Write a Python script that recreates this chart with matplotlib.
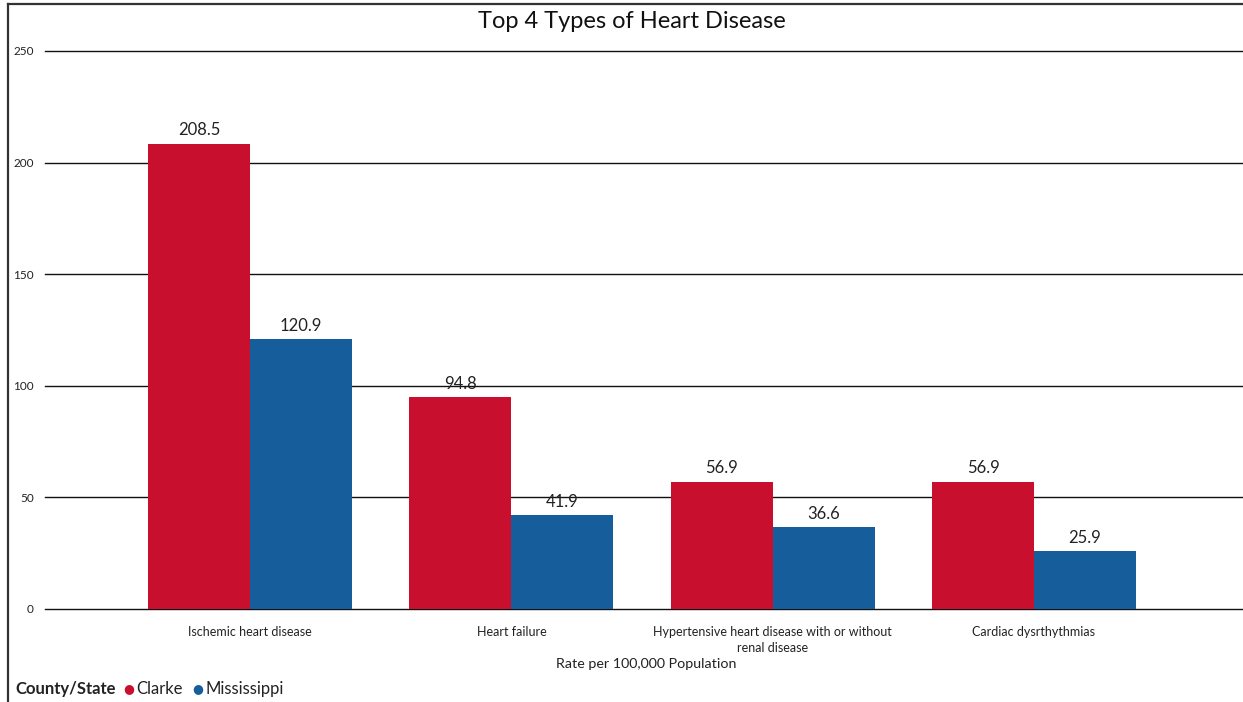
import matplotlib.pyplot as plt
import numpy as np
from matplotlib.lines import Line2D

categories = ["Ischemic heart disease", "Heart failure",
              "Hypertensive heart disease with or without\nrenal disease",
              "Cardiac dysrthythmias"]
clarke = [208.5, 94.8, 56.9, 56.9]
mississippi = [120.9, 41.9, 36.6, 25.9]
yticks = [0, 50, 100, 150, 200, 250]

red = "#C8102E"
blue = "#165E9B"
txt = "#222222"

plt.rcParams['font.family'] = ['Lato', 'DejaVu Sans']

fig = plt.figure(figsize=(12.43, 7.02), dpi=100)
ax = fig.add_axes([0.0362, 0.1325, 0.9638, 0.7949])

x = np.arange(len(categories))
w = 0.39
b1 = ax.bar(x - w / 2, clarke, w, color=red, zorder=3)
b2 = ax.bar(x + w / 2, mississippi, w, color=blue, zorder=3)

for bars in (b1, b2):
    for r in bars:
        ax.annotate(f"{r.get_height():.1f}", (r.get_x() + r.get_width() / 2, r.get_height()),
                    xytext=(0, 4), textcoords="offset points", ha="center", va="bottom",
                    fontsize=12, color=txt, zorder=4)

ax.set_xlim(-0.785, 3.80)
ax.set_ylim(0, 250)
ax.set_yticks(yticks)
ax.yaxis.grid(True, color="#111111", linewidth=1.0, zorder=0)
for gl in ax.get_ygridlines():
    gl.set_clip_on(False)
ax.set_axisbelow(True)
for s in ax.spines.values():
    s.set_visible(False)
ax.tick_params(axis="y", length=0, labelsize=8.5, labelcolor=txt, pad=8)
ax.set_xticks(x)
ax.set_xticklabels(categories, fontsize=9, color=txt, linespacing=1.4)
ax.tick_params(axis="x", length=0, pad=12)

fig.text(0.508, 0.970, "Top 4 Types of Heart Disease", ha="center", va="center",
         fontsize=17, color="#111111")
fig.text(0.520, 0.054, "Rate per 100,000 Population", ha="center", va="center",
         fontsize=10.3, color=txt)

# legend row
fig.text(0.012, 0.018, "County/State", ha="left", va="center", fontsize=12,
         fontweight="bold", color=txt)
fig.text(0.099, 0.019, "\u25cf", ha="left", va="center", fontsize=9, color=red,
         family="DejaVu Sans")
fig.text(0.110, 0.018, "Clarke", ha="left", va="center", fontsize=12, color=txt)
fig.text(0.155, 0.019, "\u25cf", ha="left", va="center", fontsize=9, color=blue,
         family="DejaVu Sans")
fig.text(0.165, 0.018, "Mississippi", ha="left", va="center", fontsize=12, color=txt)

# outer frame (left and top edges)
fig.add_artist(Line2D([0.0068, 0.0068], [0, 0.994], transform=fig.transFigure,
                      color="#333333", linewidth=1.6))
fig.add_artist(Line2D([0.0068, 1.0], [0.994, 0.994], transform=fig.transFigure,
                      color="#333333", linewidth=1.6))

fig.savefig("out.png", dpi=100)
